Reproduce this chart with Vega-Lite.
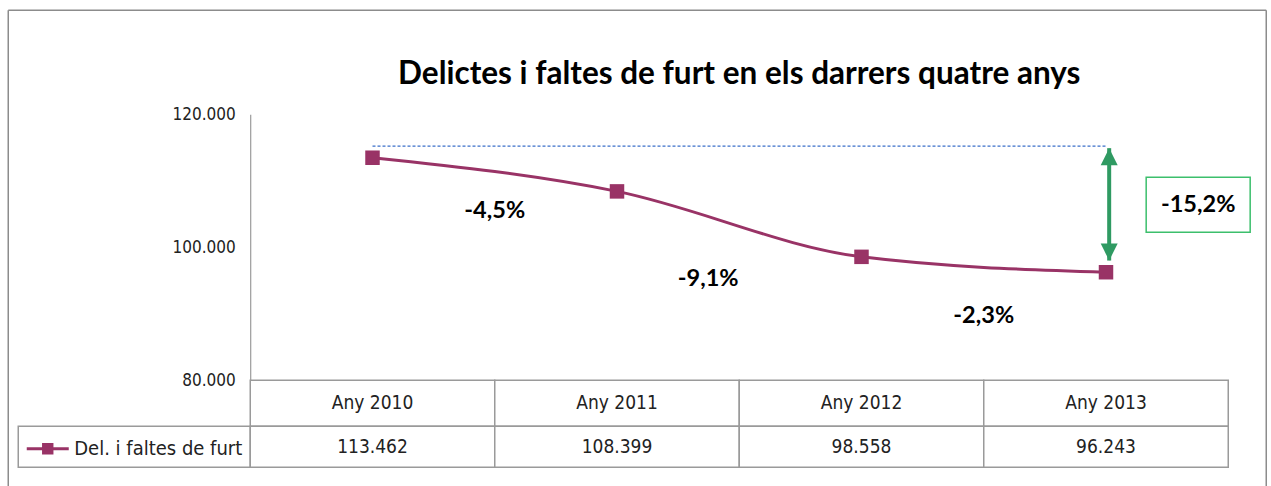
{
  "$schema": "https://vega.github.io/schema/vega-lite/v6.json",
  "padding": {"left": 7.25, "top": 9.25, "right": 0, "bottom": 0},
  "background": "white",
  "config": {
    "view": {"stroke": null},
    "locale": {"number": {"decimal": ",", "thousands": ".", "grouping": [3], "currency": ["", " €"], "minus": "-"}}
  },
  "datasets": {
    "furts": [
      {"any": "Any 2010", "serie": "Del. i faltes de furt", "delictes": 113462},
      {"any": "Any 2011", "serie": "Del. i faltes de furt", "delictes": 108399},
      {"any": "Any 2012", "serie": "Del. i faltes de furt", "delictes": 98558},
      {"any": "Any 2013", "serie": "Del. i faltes de furt", "delictes": 96243}
    ],
    "variacions": [
      {"des_de": "Any 2010", "fins_a": "Any 2011", "variacio": -0.045, "posicio": 105500},
      {"des_de": "Any 2011", "fins_a": "Any 2012", "variacio": -0.091, "posicio": 95300},
      {"des_de": "Any 2012", "fins_a": "Any 2013", "variacio": -0.023, "posicio": 89600}
    ],
    "total": [
      {"des_de": "Any 2010", "fins_a": "Any 2013", "variacio": -0.152, "fletxa_dalt": 114900, "fletxa_baix": 98000, "posicio": 106400}
    ],
    "marc": [{"element": "marc"}]
  },
  "columns": 2,
  "spacing": 0,
  "bounds": "flush",
  "resolve": {"scale": {"color": "independent"}, "legend": {"color": "independent"}},
  "concat": [
    {
      "width": 232,
      "height": 266,
      "data": {"name": "marc"},
      "layer": [
        {
          "mark": {"type": "rule", "stroke": "#8c8c8c", "strokeWidth": 1.5},
          "encoding": {
            "x": {"datum": "marc", "type": "nominal", "bandPosition": -0.0431, "scale": {"type": "band", "paddingInner": 0, "paddingOuter": 0}, "axis": null},
            "y": {"datum": 135640, "type": "quantitative", "scale": {"domain": [80000, 120000], "nice": false, "zero": false}, "axis": null},
            "y2": {"datum": 62000}
          }
        },
        {
          "mark": {"type": "rule", "stroke": "#8c8c8c", "strokeWidth": 1.5},
          "encoding": {
            "x": {"datum": "marc", "type": "nominal", "bandPosition": 5.3793},
            "y": {"datum": 135640, "type": "quantitative"},
            "y2": {"datum": 62000}
          }
        },
        {
          "mark": {"type": "rule", "stroke": "#8c8c8c", "strokeWidth": 1.5},
          "encoding": {
            "x": {"datum": "marc", "type": "nominal", "bandPosition": -0.0431},
            "x2": {"datum": "marc", "bandPosition": 5.3793},
            "y": {"datum": 135640, "type": "quantitative"}
          }
        }
      ]
    },
    {
      "width": 978,
      "height": 266,
      "title": {"text": "Delictes i faltes de furt en els darrers quatre anys", "font": "Lato", "fontSize": 31.5, "fontWeight": "bold", "color": "#000000", "anchor": "middle", "frame": "group", "offset": 15},
      "layer": [
        {
          "data": {"name": "furts"},
          "mark": {"type": "line", "stroke": "#3b6fc9", "strokeWidth": 1.4, "strokeDash": [3, 2]},
          "encoding": {
            "x": {"field": "any", "type": "nominal", "bandPosition": 0.5, "scale": {"type": "band", "domain": ["Any 2010", "Any 2011", "Any 2012", "Any 2013"], "paddingInner": 0, "paddingOuter": 0}, "axis": null},
            "y": {"datum": 115200, "type": "quantitative"}
          }
        },
        {
          "data": {"name": "furts"},
          "mark": {"type": "line", "interpolate": "monotone", "strokeWidth": 3},
          "encoding": {
            "x": {"field": "any", "type": "nominal", "bandPosition": 0.5},
            "y": {"field": "delictes", "type": "quantitative", "scale": {"domain": [80000, 120000], "nice": false, "zero": false},
              "axis": {"values": [80000, 100000, 120000], "format": ",.0f", "ticks": false, "grid": false, "domainColor": "#868686", "domainWidth": 1, "labelPadding": 15, "labelFont": "DejaVu Sans Condensed, Liberation Sans Narrow, DejaVu Sans", "labelFontSize": 17, "labelColor": "#222222", "title": null}},
            "color": {"field": "serie", "type": "nominal", "scale": {"range": ["#993366"]},
              "legend": {"orient": "none", "legendX": -225, "legendY": 312, "title": null, "padding": 0, "labelLimit": 0,
                "symbolType": "M-1,0H1M-0.2,-0.2H0.2V0.2H-0.2Z", "symbolSize": 1764, "symbolStrokeWidth": 3,
                "labelFont": "DejaVu Sans Condensed, Liberation Sans Narrow, DejaVu Sans", "labelFontSize": 20, "labelColor": "#222222", "labelOffset": 4,
                "encode": {"symbols": {"update": {"fill": {"value": "#993366"}, "stroke": {"value": "#993366"}, "strokeWidth": {"value": 3}}}}}}
          }
        },
        {
          "data": {"name": "furts"},
          "mark": {"type": "point", "shape": "square", "filled": true, "size": 210, "color": "#993366", "opacity": 1},
          "encoding": {
            "x": {"field": "any", "type": "nominal", "bandPosition": 0.5},
            "y": {"field": "delictes", "type": "quantitative"}
          }
        },
        {
          "data": {"name": "total"},
          "mark": {"type": "rule", "stroke": "#2f9a62", "strokeWidth": 4},
          "encoding": {
            "x": {"field": "fins_a", "type": "nominal", "bandPosition": 0.513},
            "y": {"field": "fletxa_dalt", "type": "quantitative"},
            "y2": {"field": "fletxa_baix"}
          }
        },
        {
          "data": {"name": "total"},
          "mark": {"type": "point", "shape": "M0,0L0.5,1L-0.5,1Z", "filled": true, "size": 1156, "color": "#2f9a62", "opacity": 1},
          "encoding": {
            "x": {"field": "fins_a", "type": "nominal", "bandPosition": 0.513},
            "y": {"field": "fletxa_dalt", "type": "quantitative"}
          }
        },
        {
          "data": {"name": "total"},
          "mark": {"type": "point", "shape": "M0,0L0.5,-1L-0.5,-1Z", "filled": true, "size": 1156, "color": "#2f9a62", "opacity": 1},
          "encoding": {
            "x": {"field": "fins_a", "type": "nominal", "bandPosition": 0.513},
            "y": {"field": "fletxa_baix", "type": "quantitative"}
          }
        },
        {
          "data": {"name": "variacions"},
          "transform": [{"filter": "datum.des_de !== 'Any 2011'"}],
          "mark": {"type": "text", "font": "Lato", "fontWeight": "bold", "fontSize": 23.5, "color": "#000000", "align": "center", "baseline": "middle"},
          "encoding": {
            "x": {"field": "des_de", "type": "nominal", "bandPosition": 1},
            "y": {"field": "posicio", "type": "quantitative"},
            "text": {"field": "variacio", "type": "quantitative", "format": ".1%"}
          }
        },
        {
          "data": {"name": "variacions"},
          "transform": [{"filter": "datum.des_de === 'Any 2011'"}],
          "mark": {"type": "text", "font": "Lato", "fontWeight": "bold", "fontSize": 23.5, "color": "#000000", "align": "center", "baseline": "middle"},
          "encoding": {
            "x": {"field": "des_de", "type": "nominal", "bandPosition": 0.873},
            "y": {"field": "posicio", "type": "quantitative"},
            "text": {"field": "variacio", "type": "quantitative", "format": ".1%"}
          }
        },
        {
          "data": {"name": "total"},
          "mark": {"type": "point", "shape": "M-1,-0.53H1V0.53H-1Z", "filled": false, "size": 10816, "stroke": "#3cbf6c", "strokeWidth": 1.5, "opacity": 1},
          "encoding": {
            "x": {"field": "fins_a", "type": "nominal", "bandPosition": 0.877},
            "y": {"field": "posicio", "type": "quantitative"}
          }
        },
        {
          "data": {"name": "total"},
          "mark": {"type": "text", "font": "Lato", "fontWeight": "bold", "fontSize": 23.5, "color": "#000000", "align": "center", "baseline": "middle"},
          "encoding": {
            "x": {"field": "fins_a", "type": "nominal", "bandPosition": 0.877},
            "y": {"field": "posicio", "type": "quantitative"},
            "text": {"field": "variacio", "type": "quantitative", "format": ".1%"}
          }
        }
      ]
    },
    {"width": 232, "height": 46, "data": {"values": []}, "mark": "point"},
    {
      "width": 978,
      "height": 46,
      "data": {"name": "furts"},
      "encoding": {"x": {"field": "any", "type": "nominal", "scale": {"paddingInner": 0, "paddingOuter": 0}, "axis": null}},
      "layer": [
        {"mark": {"type": "rect", "fill": "white", "stroke": "#9a9a9a", "strokeWidth": 1.5}},
        {"mark": {"type": "text", "font": "DejaVu Sans Condensed, Liberation Sans Narrow, DejaVu Sans", "fontSize": 19, "color": "#222222"}, "encoding": {"text": {"field": "any"}}}
      ]
    },
    {"width": 232, "height": 41, "view": {"stroke": "#9a9a9a", "strokeWidth": 1.5}, "data": {"values": []}, "mark": "point"},
    {
      "width": 978,
      "height": 41,
      "data": {"name": "furts"},
      "encoding": {"x": {"field": "any", "type": "nominal", "scale": {"paddingInner": 0, "paddingOuter": 0}, "axis": null}},
      "layer": [
        {"mark": {"type": "rect", "fill": "white", "stroke": "#9a9a9a", "strokeWidth": 1.5}},
        {"mark": {"type": "text", "font": "DejaVu Sans Condensed, Liberation Sans Narrow, DejaVu Sans", "fontSize": 19, "color": "#222222"}, "encoding": {"text": {"field": "delictes", "type": "quantitative", "format": ",.0f"}}}
      ]
    }
  ]
}
